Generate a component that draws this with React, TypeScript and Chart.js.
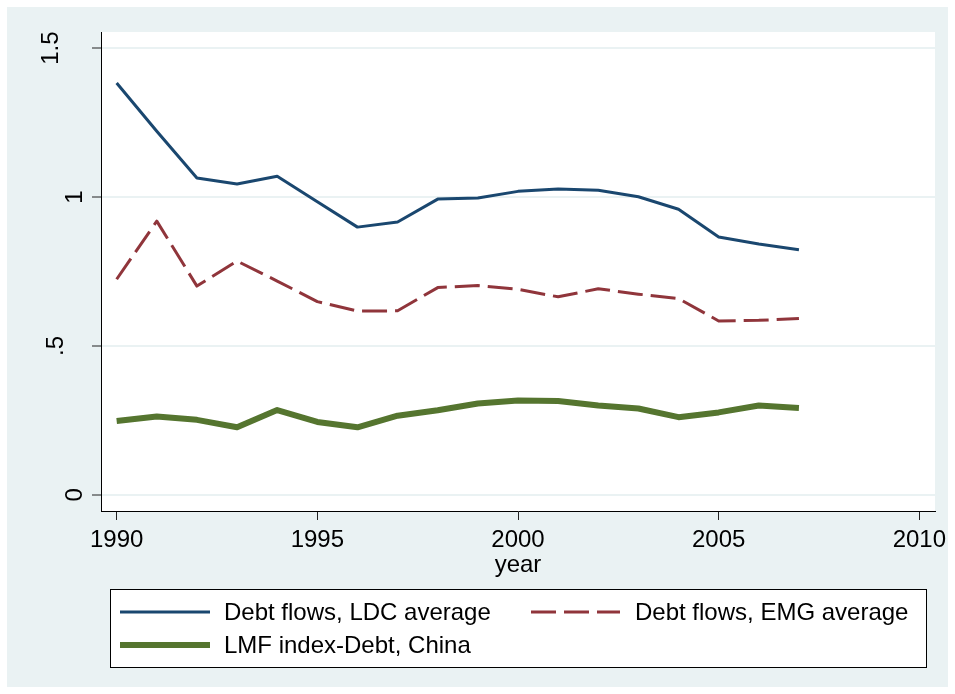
import { useEffect, useRef } from 'react';
import { Chart, registerables } from 'chart.js';

Chart.register(...registerables);

const FONT = '"Liberation Sans", Arial, Helvetica, sans-serif';
const FONT_SIZE = 24;
const BG = '#EAF2F3';

// Annual observations
const years = [1990, 1991, 1992, 1993, 1994, 1995, 1996, 1997, 1998, 1999, 2000, 2001, 2002, 2003, 2004, 2005, 2006, 2007];
const ldcAverage = [1.383, 1.221, 1.064, 1.044, 1.070, 0.984, 0.899, 0.916, 0.993, 0.997, 1.019, 1.027, 1.023, 1.001, 0.959, 0.866, 0.842, 0.823];
const emgAverage = [0.724, 0.919, 0.701, 0.785, 0.718, 0.649, 0.617, 0.618, 0.696, 0.703, 0.690, 0.665, 0.692, 0.674, 0.659, 0.584, 0.586, 0.592];
const lmfChina = [0.248, 0.263, 0.252, 0.227, 0.285, 0.245, 0.227, 0.266, 0.284, 0.307, 0.317, 0.315, 0.300, 0.290, 0.261, 0.277, 0.300, 0.292];

const seriesNames = ['Debt flows, LDC average', 'Debt flows, EMG average', 'LMF index-Debt, China'];

// Axis ticks
const xTicks = [1990, 1995, 2000, 2005, 2010];
const yTicks = [0, 0.5, 1, 1.5];
const yTickLabels = ['0', '.5', '1', '1.5'];

const COLORS = ['#1A476F', '#90353B', '#55752F'];
const WIDTHS = [3, 3, 6];
const DASH: number[][] = [[], [25, 8], []];

const toPoints = (vals: number[]) => vals.map((v, i) => ({ x: years[i], y: v }));

// white plotting region
const plotBackground = {
  id: 'plotBackground',
  beforeDraw(chart: any) {
    const { ctx, chartArea: a } = chart;
    ctx.save();
    ctx.fillStyle = '#ffffff';
    ctx.fillRect(a.left, a.top, a.right - a.left, a.bottom - a.top);
    ctx.restore();
  },
};

// vertical (rotated) y-axis labels; distance from the axis line to each label's baseline
const yLabelGap: Record<string, number> = { '0': 19, '.5': 38, '1': 19, '1.5': 43 };
const yAxisLabels = {
  id: 'yAxisLabels',
  afterDraw(chart: any) {
    const { ctx } = chart;
    const ys = chart.scales.y;
    ctx.save();
    ctx.font = `${FONT_SIZE}px ${FONT}`;
    ctx.fillStyle = '#000';
    ctx.textAlign = 'center';
    ctx.textBaseline = 'alphabetic';
    yTicks.forEach((v, i) => {
      const label = yTickLabels[i];
      const py = ys.getPixelForValue(v);
      const px = chart.chartArea.left - yLabelGap[label];
      ctx.save();
      ctx.translate(px, py);
      ctx.rotate(-Math.PI / 2);
      ctx.fillText(label, 0, 0);
      ctx.restore();
    });
    ctx.restore();
  },
};

// boxed legend below the axis title, two columns
const boxLegend = {
  id: 'boxLegend',
  afterDraw(chart: any) {
    const { ctx } = chart;
    const box = { x: 103, y: 582, w: 816, h: 78 };
    ctx.save();
    ctx.fillStyle = '#ffffff';
    ctx.fillRect(box.x, box.y, box.w, box.h);
    ctx.strokeStyle = '#000';
    ctx.lineWidth = 1;
    ctx.strokeRect(box.x + 0.5, box.y + 0.5, box.w, box.h);

    const slots = [
      { x0: 113, x1: 203, tx: 217, y: 605 },
      { x0: 524, x1: 613, tx: 628, y: 605 },
      { x0: 113, x1: 203, tx: 217, y: 638 },
    ];
    ctx.font = `${FONT_SIZE}px ${FONT}`;
    ctx.textAlign = 'left';
    ctx.textBaseline = 'middle';
    chart.data.datasets.forEach((ds: any, i: number) => {
      const s = slots[i];
      ctx.beginPath();
      ctx.setLineDash(ds.borderDash || []);
      ctx.strokeStyle = ds.borderColor;
      ctx.lineWidth = ds.borderWidth;
      ctx.moveTo(s.x0, s.y);
      ctx.lineTo(s.x1, s.y);
      ctx.stroke();
      ctx.setLineDash([]);
      ctx.fillStyle = '#000';
      ctx.fillText(ds.label, s.tx, s.y + 1);
    });
    ctx.restore();
  },
};

export default function App() {
  const canvasRef = useRef<HTMLCanvasElement | null>(null);

  useEffect(() => {
    if (!canvasRef.current) return;
    const chart = new Chart(canvasRef.current, {
      type: 'line',
      data: {
        datasets: [ldcAverage, emgAverage, lmfChina].map((vals, i) => ({
          label: seriesNames[i],
          data: toPoints(vals),
          borderColor: COLORS[i],
          backgroundColor: COLORS[i],
          borderWidth: WIDTHS[i],
          borderDash: DASH[i],
          borderJoinStyle: 'round' as const,
          pointRadius: 0,
          tension: 0,
          fill: false,
        })),
      },
      options: {
        responsive: false,
        animation: false,
        devicePixelRatio: 1,
        layout: { padding: { left: 0, top: 25, right: 13, bottom: 107 } },
        plugins: {
          legend: { display: false },
          tooltip: { enabled: false },
        },
        scales: {
          x: {
            type: 'linear',
            min: 1989.61,
            max: 2010.39,
            afterBuildTicks: (s: any) => {
              s.ticks = xTicks.map((v) => ({ value: v }));
            },
            afterFit: (s: any) => {
              s.height = 69;
              s.paddingLeft = 0;
              s.paddingRight = 0;
            },
            border: { display: true, color: '#000', width: 1 },
            grid: {
              drawOnChartArea: false,
              drawTicks: true,
              tickLength: 9,
              tickColor: '#222',
              tickWidth: 1,
            },
            ticks: {
              autoSkip: false,
              maxRotation: 0,
              padding: 6,
              color: '#000',
              font: { family: FONT, size: FONT_SIZE },
              callback: (v: any) => String(v),
            },
            title: {
              display: true,
              text: 'year',
              color: '#000',
              padding: 0,
              font: { family: FONT, size: FONT_SIZE },
            },
          },
          y: {
            type: 'linear',
            min: -0.054,
            max: 1.554,
            afterBuildTicks: (s: any) => {
              s.ticks = yTicks.map((v) => ({ value: v }));
            },
            afterFit: (s: any) => {
              s.width = 94;
              s.paddingTop = 0;
              s.paddingBottom = 0;
            },
            border: { display: true, color: '#000', width: 1 },
            grid: {
              drawOnChartArea: true,
              color: BG,
              lineWidth: 2,
              drawTicks: true,
              tickLength: 9,
              tickColor: '#222',
              tickWidth: 1,
            },
            ticks: { display: false },
          },
        },
      },
      plugins: [plotBackground, yAxisLabels, boxLegend],
    });
    return () => chart.destroy();
  }, []);

  return (
    <div
      style={{
        position: 'absolute',
        left: 7,
        top: 7,
        width: 941,
        height: 680,
        background: BG,
      }}
    >
      <canvas ref={canvasRef} width={941} height={680} style={{ display: 'block' }} />
    </div>
  );
}
